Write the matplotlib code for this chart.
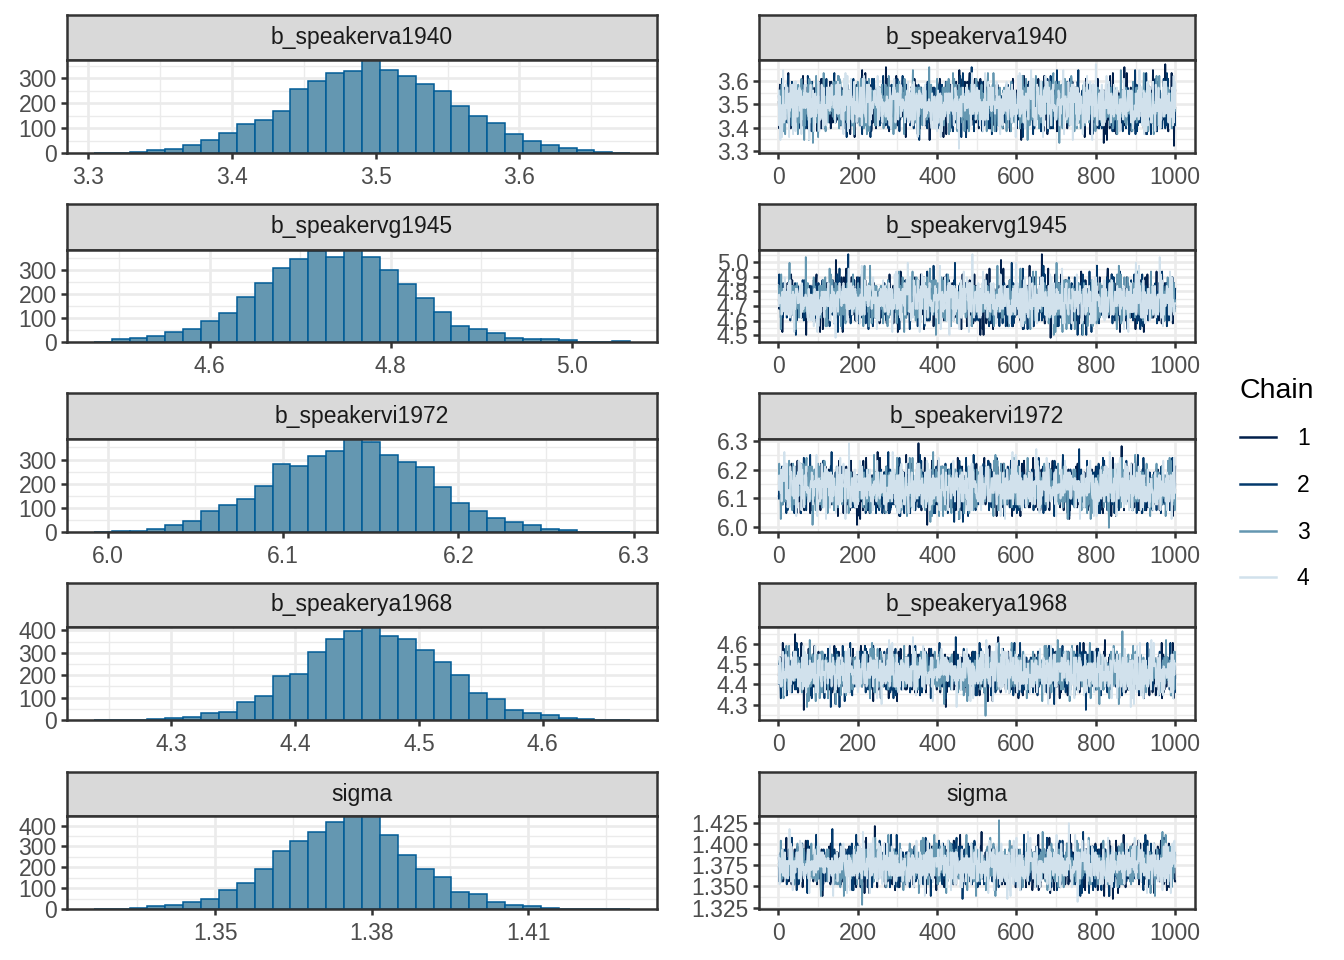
import numpy as np
import matplotlib.pyplot as plt
from matplotlib.ticker import MultipleLocator, FormatStrFormatter
from matplotlib.lines import Line2D

plt.rcParams['font.family'] = ['Liberation Sans', 'DejaVu Sans']

# parameter names (facet strips)
params = ['b_speakerva1940', 'b_speakervg1945', 'b_speakervi1972',
          'b_speakerya1968', 'sigma']

# histogram bin range (left edge, right edge), 30 bins each
bin_lo = [3.304, 4.472, 5.992, 4.2374, 1.3267]
bin_hi = [3.677, 5.0645, 6.298, 4.6705, 1.4296]

# bin counts (4000 draws per parameter)
counts_va1940 = [1, 1, 3, 11, 17, 33, 52, 79, 117, 132, 169, 257, 288, 321, 329,
                 372, 331, 307, 276, 249, 189, 149, 121, 76, 49, 33, 20, 12, 4, 2]
counts_vg1945 = [2, 11, 17, 26, 40, 56, 87, 122, 188, 246, 310, 349, 380, 357, 385,
                 356, 301, 242, 183, 124, 69, 56, 38, 18, 12, 11, 7, 2, 2, 3]
counts_vi1972 = [1, 3, 3, 12, 28, 46, 86, 110, 137, 190, 283, 272, 314, 337, 385,
                 372, 317, 290, 268, 188, 118, 89, 56, 42, 29, 11, 8, 2, 1, 2]
counts_ya1968 = [1, 0, 2, 6, 9, 13, 30, 37, 82, 109, 196, 206, 303, 363, 397,
                 415, 375, 360, 313, 258, 199, 122, 94, 46, 30, 22, 7, 3, 1, 1]
counts_sigma = [1, 1, 3, 14, 18, 32, 50, 91, 125, 194, 278, 326, 368, 416, 446,
                446, 355, 258, 193, 152, 82, 71, 35, 18, 16, 6, 2, 1, 1, 1]
counts = [counts_va1940, counts_vg1945, counts_vi1972, counts_ya1968, counts_sigma]

# axis ticks
hist_xticks = [0.1, 0.2, 0.1, 0.1, 0.03]
hist_xfmt = ['%.1f', '%.1f', '%.1f', '%.1f', '%.2f']
trace_yticks = [0.1, 0.1, 0.1, 0.1, 0.025]
trace_yfmt = ['%.1f', '%.1f', '%.1f', '%.1f', '%.3f']

chains = ['1', '2', '3', '4']
chain_colors = ['#011f4b', '#03396c', '#6497b1', '#d1e1ec']
n_iter = 1000

W, H = 1344, 960
fig = plt.figure(figsize=(W / 100, H / 100), dpi=100)

# rows: (strip top, panel top, panel bottom) in pixels
rows = [(15, 60, 153), (204, 250, 342), (393, 439, 532), (583, 627, 720), (772, 816, 909)]
cols = [(67, 657), (759, 1195)]

TXT = 16.5
EDGE = '#333333'
GRID = '#EBEBEB'


def rect(x0, x1, top, bot):
    return [x0 / W, 1 - bot / H, (x1 - x0) / W, (bot - top) / H]


def strip(x0, x1, top, bot, label):
    s = fig.add_axes(rect(x0, x1, top, bot))
    s.set_facecolor('#D9D9D9')
    s.set_xticks([])
    s.set_yticks([])
    for sp in s.spines.values():
        sp.set_color(EDGE)
        sp.set_linewidth(1.8)
    s.text(0.5, 0.5, label, ha='center', va='center', fontsize=TXT, color='#1A1A1A',
           transform=s.transAxes)


def style(ax):
    ax.set_facecolor('white')
    for sp in ax.spines.values():
        sp.set_color(EDGE)
        sp.set_linewidth(1.8)
    ax.grid(True, which='major', color=GRID, lw=1.9)
    ax.grid(True, which='minor', color=GRID, lw=1.0)
    ax.set_axisbelow(True)
    ax.tick_params(which='major', length=4.5, width=1.8, color=EDGE, labelcolor='#4D4D4D',
                   labelsize=TXT, pad=3)
    ax.tick_params(axis='x', which='major', pad=5)
    ax.tick_params(which='minor', length=0)


for k, name in enumerate(params):
    st, pt, pb = rows[k]
    c = np.array(counts[k])
    edges = np.linspace(bin_lo[k], bin_hi[k], 31)
    centers = (edges[:-1] + edges[1:]) / 2

    # histogram
    x0, x1 = cols[0]
    strip(x0, x1, st, pt, name)
    ax = fig.add_axes(rect(x0, x1, pt, pb))
    style(ax)
    ax.bar(edges[:-1], c, width=np.diff(edges), align='edge',
           color='#6497b1', edgecolor='#005b96', linewidth=1.1)
    span = edges[-1] - edges[0]
    ax.set_xlim(edges[0] - 0.05 * span, edges[-1] + 0.05 * span)
    ax.set_ylim(0, c.max())
    ax.xaxis.set_major_locator(MultipleLocator(hist_xticks[k]))
    ax.xaxis.set_minor_locator(MultipleLocator(hist_xticks[k] / 2))
    ax.xaxis.set_major_formatter(FormatStrFormatter(hist_xfmt[k]))
    ax.yaxis.set_major_locator(MultipleLocator(100))
    ax.yaxis.set_minor_locator(MultipleLocator(50))

    # trace: the same 4000 draws as the histogram, put in iteration order
    # with a fixed cubic permutation mod 4001 (no random numbers)
    draws = np.repeat(centers, c)
    t = np.arange(draws.size)
    key = (np.array([pow(int(v), 3, 4001) for v in t + 700 + 311 * k]) * 1237 + 577) % 4001
    rank = np.argsort(np.argsort(key))
    draws = draws[rank].reshape(4, n_iter)

    x0, x1 = cols[1]
    strip(x0, x1, st, pt, name)
    ax = fig.add_axes(rect(x0, x1, pt, pb))
    style(ax)
    it = np.arange(1, n_iter + 1)
    for ci in range(4):
        ax.plot(it, draws[ci], color=chain_colors[ci], lw=1.3)
    ax.set_xlim(1 - 0.05 * (n_iter - 1), n_iter + 0.05 * (n_iter - 1))
    lo, hi = draws.min(), draws.max()
    ax.set_ylim(lo - 0.05 * (hi - lo), hi + 0.05 * (hi - lo))
    ax.xaxis.set_major_locator(MultipleLocator(200))
    ax.xaxis.set_minor_locator(MultipleLocator(100))
    ax.yaxis.set_major_locator(MultipleLocator(trace_yticks[k]))
    ax.yaxis.set_minor_locator(MultipleLocator(trace_yticks[k] / 2))
    ax.yaxis.set_major_formatter(FormatStrFormatter(trace_yfmt[k]))

handles = [Line2D([], [], color=col, lw=1.8) for col in chain_colors]
leg = fig.legend(handles, chains, title='Chain', loc='center left',
                 bbox_to_anchor=(1219 / W, 1 - 484 / H), frameon=False,
                 fontsize=TXT, title_fontsize=20.5, handlelength=1.6,
                 handletextpad=0.9, labelspacing=1.03)
leg._legend_box.align = 'left'

fig.savefig('out.png', dpi=100)
